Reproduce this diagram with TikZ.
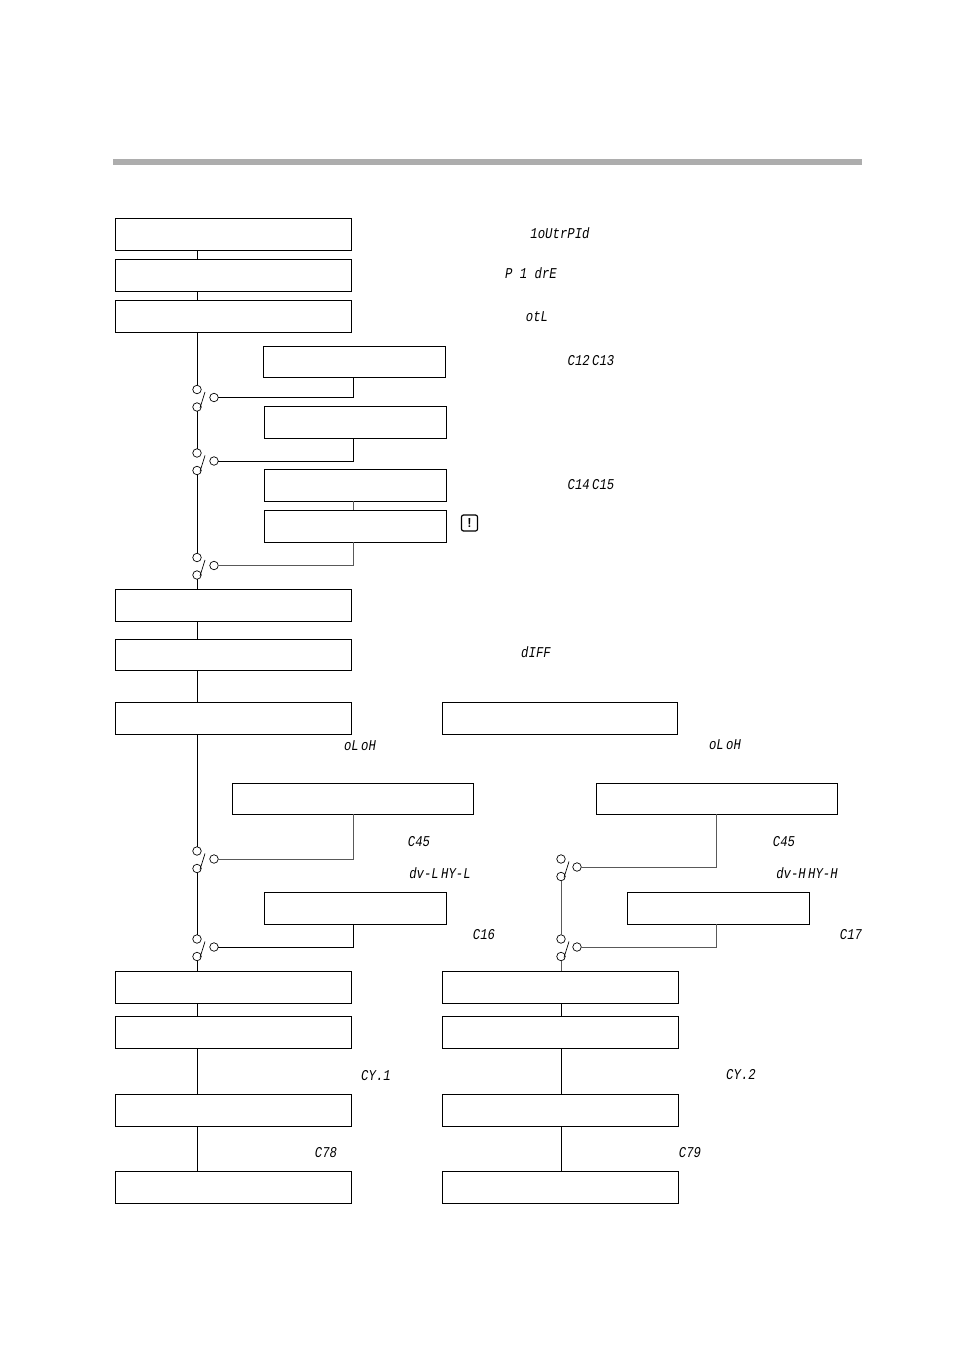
\documentclass[tikz,border=0pt]{standalone}
\usepackage{fontspec}
\usepackage{graphicx}
\newfontfamily\ledfont{Liberation Mono}
\newcommand{\ledtext}[1]{\scalebox{.82}[1]{#1}}
\newcommand{\ledgap}{\kern3pt}
\usetikzlibrary{positioning}

\begin{document}
\begin{tikzpicture}[x=1pt,y=-1pt]
    \tikzset{block/.style= {draw, rectangle
    , line width=1pt
    , inner sep=0pt
    , outer sep=0pt
    , minimum height=32pt
      }
    , wide/.style= {block, minimum width=236pt}
    , mid/.style= {block, minimum width=241pt}
    , slim/.style= {block, minimum width=182pt}
    , contact/.style= {draw, circle, line width=0.7pt, inner sep=0pt, outer sep=0pt, minimum size=8.5pt}
    , wire/.style= {draw, line width=1pt}
    , fadedwire/.style= {draw, line width=1pt, black!65}
    , led/.style= {inner sep=0pt, font=\ledfont\itshape\fontsize{15}{15}\selectfont}
    }

\useasboundingbox (0,0) rectangle (954,1351);

\fill[black!32] (113,159) rectangle (862,165.5);

% left column
\node [wide] (inA) at (233,234) {};
\node [wide] (inB) at (233,275) {};
\node [wide] (inC) at (233,316) {};
\node [slim, minimum height=31pt] (subA) at (354,361.5) {};
\node [slim] (subB) at (355,422) {};
\node [slim] (subC) at (355,485) {};
\node [slim] (subD) at (355,526) {};
\node [wide] (inD) at (233,605) {};
\node [wide, minimum height=31pt] (inE) at (233,654.5) {};
\node [wide] (outL) at (233,718) {};
\node [mid, minimum height=31pt] (almL) at (353,798.5) {};
\node [slim] (hbL) at (355,908) {};
\node [wide] (ctlL) at (233,987) {};
\node [wide] (cycL) at (233,1032) {};
\node [wide] (lmtL) at (233,1110) {};
\node [wide] (fnlL) at (233,1187) {};

% right column
\node [wide, minimum width=235pt] (outR) at (559.5,718) {};
\node [mid, minimum height=31pt] (almR) at (717,798.5) {};
\node [slim] (hbR) at (718,908) {};
\node [wide] (ctlR) at (560,987) {};
\node [wide] (cycR) at (560,1032) {};
\node [wide] (lmtR) at (560,1110) {};
\node [wide] (fnlR) at (560,1187) {};

% switches
\foreach \sw/\sx/\sy/\ox in {swA/197/389.5/214, swB/197/453/214, swC/197/557.5/214, swD/197/851/214, swE/197/939/214, swF/561/859/577, swG/561/939/577} {
  \node [contact] (\sw top) at (\sx,\sy) {};
  \node [contact] (\sw low) at (\sx,\sy+17.5) {};
  \node [contact] (\sw out) at (\ox,\sy+8) {};
  \draw [line width=0.7pt] (\sw low.north east) ++(0,4) -- ++(5,-16);
}

\coordinate (trunkL) at (197,0);
\coordinate (trunkR) at (561,0);
\coordinate (stemL) at (353,0);
\coordinate (stemR) at (716.5,0);

 \path[wire]
  (inA.south -| trunkL) -- (inB.north -| trunkL)
  (inB.south -| trunkL) -- (inC.north -| trunkL)
  (inC.south -| trunkL) -- (swAtop)
  (swAlow) -- (swBtop)
  (swBlow) -- (swCtop)
  (swClow) -- (inD.north -| trunkL)
  (inD.south -| trunkL) -- (inE.north -| trunkL)
  (inE.south -| trunkL) -- (outL.north -| trunkL)
  (outL.south -| trunkL) -- (swDtop)
  (swDlow) -- (swEtop)
  (swElow) -- (ctlL.north -| trunkL)
  (ctlL.south -| trunkL) -- (cycL.north -| trunkL)
  (cycL.south -| trunkL) -- (lmtL.north -| trunkL)
  (lmtL.south -| trunkL) -- (fnlL.north -| trunkL)
  (ctlR.south -| trunkR) -- (cycR.north -| trunkR)
  (cycR.south -| trunkR) -- (lmtR.north -| trunkR)
  (lmtR.south -| trunkR) -- (fnlR.north -| trunkR)
  (subA.south -| stemL) |- (swAout)
  (subB.south -| stemL) |- (swBout)
  (hbL.south -| stemL) |- (swEout);
 \path[fadedwire]
  (swFlow) -- (swGtop)
  (swGlow) -- (ctlR.north -| trunkR)
  (subC.south -| stemL) -- (subD.north -| stemL)
  (subD.south -| stemL) |- (swCout)
  (almL.south -| stemL) |- (swDout)
  (almR.south -| stemR) |- (swFout)
  (hbR.south -| stemR) |- (swGout);

% display labels
\node [led] (ledA) at (560,233) {\ledtext{1oUtrPId}};
\node [led] (ledB) at (531,273) {\ledtext{P 1 drE}};
\node [led] (ledC) at (537,317) {\ledtext{otL}};
\node [led] (ledD) at (591,361) {\ledtext{C12\ledgap C13}};
\node [led] (ledE) at (591,485) {\ledtext{C14\ledgap C15}};
\node [led] (ledF) at (536,652) {\ledtext{dIFF}};
\node [led] (ledG) at (360,746) {\ledtext{oL\ledgap oH}};
\node [led] (ledH) at (725,744.5) {\ledtext{oL\ledgap oH}};
\node [led] (ledI) at (419,842) {\ledtext{C45}};
\node [led] (ledJ) at (784,842) {\ledtext{C45}};
\node [led] (ledK) at (440,873) {\ledtext{dv-L\ledgap HY-L}};
\node [led] (ledL) at (807,873) {\ledtext{dv-H\ledgap HY-H}};
\node [led] (ledM) at (484,935) {\ledtext{C16}};
\node [led] (ledN) at (851,935) {\ledtext{C17}};
\node [led] (ledO) at (376,1076) {\ledtext{CY.1}};
\node [led] (ledP) at (741,1075) {\ledtext{CY.2}};
\node [led] (ledQ) at (326,1153) {\ledtext{C78}};
\node [led] (ledR) at (690,1153) {\ledtext{C79}};

\node [draw, rectangle, rounded corners=2pt, line width=1.2pt, inner sep=0pt, minimum size=16pt, font=\sffamily\bfseries\fontsize{13}{13}\selectfont] (warn) at (469.5,523) {!};
\end{tikzpicture}
\end{document}
